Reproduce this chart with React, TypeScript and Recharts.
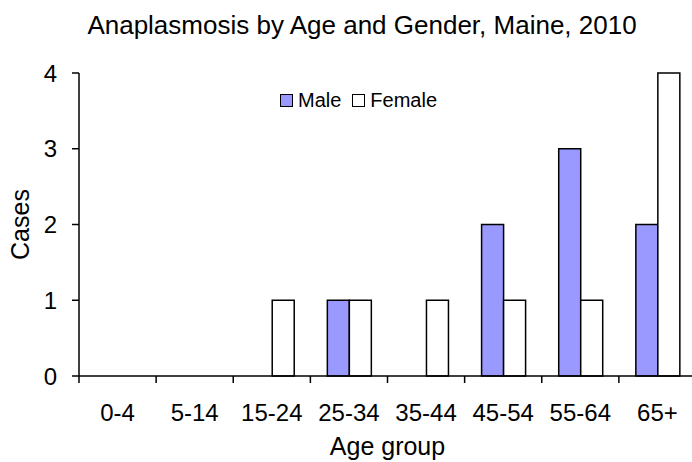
import { BarChart, Bar, XAxis, YAxis, Legend } from 'recharts'

const ageGroups = ['0-4', '5-14', '15-24', '25-34', '35-44', '45-54', '55-64', '65+']
const maleCases = [0, 0, 0, 1, 0, 2, 3, 2]
const femaleCases = [0, 0, 1, 1, 1, 1, 1, 4]
const caseTicks = [0, 1, 2, 3, 4]
const seriesOrder = ['Male', 'Female']

const chartData = ageGroups.map((age, i) => ({ age, male: maleCases[i], female: femaleCases[i] }))

const FONT = '"Liberation Sans", Arial, sans-serif'
const X_TICK_SIZE = 7
const X_TICK_MARGIN = 21

function SwatchLegend({ payload }: any) {
  const items = [...(payload || [])].sort((a: any, b: any) => seriesOrder.indexOf(a.value) - seriesOrder.indexOf(b.value))
  return (
    <div style={{ display: 'flex', alignItems: 'center', fontFamily: FONT, fontSize: 20, lineHeight: '20px', color: '#000' }}>
      {items.map((item: any) => (
        <div key={item.value} style={{ display: 'flex', alignItems: 'center', marginRight: 11 }}>
          <span
            style={{
              display: 'inline-block',
              width: 11,
              height: 11,
              background: item.payload?.fill ?? item.color,
              border: '1.5px solid #000',
              marginRight: 5,
            }}
          />
          <span>{item.value}</span>
        </div>
      ))}
    </div>
  )
}

// Excel-style category axis: tick marks sit on the band edges, labels in the middle
function GroupTick(props: any) {
  const { x, y, payload } = props
  const axisY = y - X_TICK_SIZE - X_TICK_MARGIN
  const edgeX = x - (payload?.offset ?? 0)
  return (
    <g>
      <line x1={edgeX} y1={axisY} x2={edgeX} y2={axisY + X_TICK_SIZE} stroke="#000" strokeWidth={1.5} />
      <text x={x} y={y} dy="0.71em" textAnchor="middle" fill="#000" fontSize={24} fontFamily={FONT}>
        {payload?.value}
      </text>
    </g>
  )
}

export default function App() {
  return (
    <div style={{ position: 'absolute', left: 0, top: 0, width: 692, height: 462, overflow: 'hidden', background: '#fff' }}>
      {/* Title */}
      <div
        style={{
          position: 'absolute',
          left: 0,
          top: 12,
          width: 724,
          textAlign: 'center',
          fontFamily: FONT,
          fontSize: 26,
          lineHeight: '26px',
          color: '#000',
        }}
      >
        Anaplasmosis by Age and Gender, Maine, 2010
      </div>
      <BarChart
        width={700}
        height={462}
        data={chartData}
        margin={{ top: 73, right: 4, bottom: 0, left: 0 }}
        barCategoryGap="22%"
        barGap={0}
        style={{ position: 'absolute', left: 0, top: 0 }}
      >
        <XAxis
          dataKey="age"
          height={86}
          axisLine={{ stroke: '#000', strokeWidth: 1.5 }}
          tickLine={false}
          tickSize={X_TICK_SIZE}
          tickMargin={X_TICK_MARGIN}
          interval={0}
          tick={<GroupTick />}
          label={{ value: 'Age group', position: 'insideBottom', offset: 7, style: { fill: '#000', fontSize: 25, fontFamily: FONT } }}
        />
        <YAxis
          width={79}
          domain={[0, 4]}
          ticks={caseTicks}
          tickSize={7}
          tickMargin={15}
          axisLine={{ stroke: '#000', strokeWidth: 1.5 }}
          tickLine={{ stroke: '#000', strokeWidth: 1.5 }}
          tick={{ fill: '#000', fontSize: 24, fontFamily: FONT }}
          label={{ value: 'Cases', angle: -90, position: 'insideLeft', offset: 20, style: { fill: '#000', fontSize: 25, fontFamily: FONT, textAnchor: 'middle' } }}
        />
        <Legend
          layout="horizontal"
          verticalAlign="middle"
          align="center"
          content={<SwatchLegend />}
          wrapperStyle={{ left: 280, top: 90, width: 'auto' }}
        />
        <Bar dataKey="male" name="Male" fill="#9999FF" stroke="#000" strokeWidth={1.5} isAnimationActive={false} />
        <Bar dataKey="female" name="Female" fill="#FFFFFF" stroke="#000" strokeWidth={1.5} isAnimationActive={false} />
      </BarChart>
    </div>
  )
}
